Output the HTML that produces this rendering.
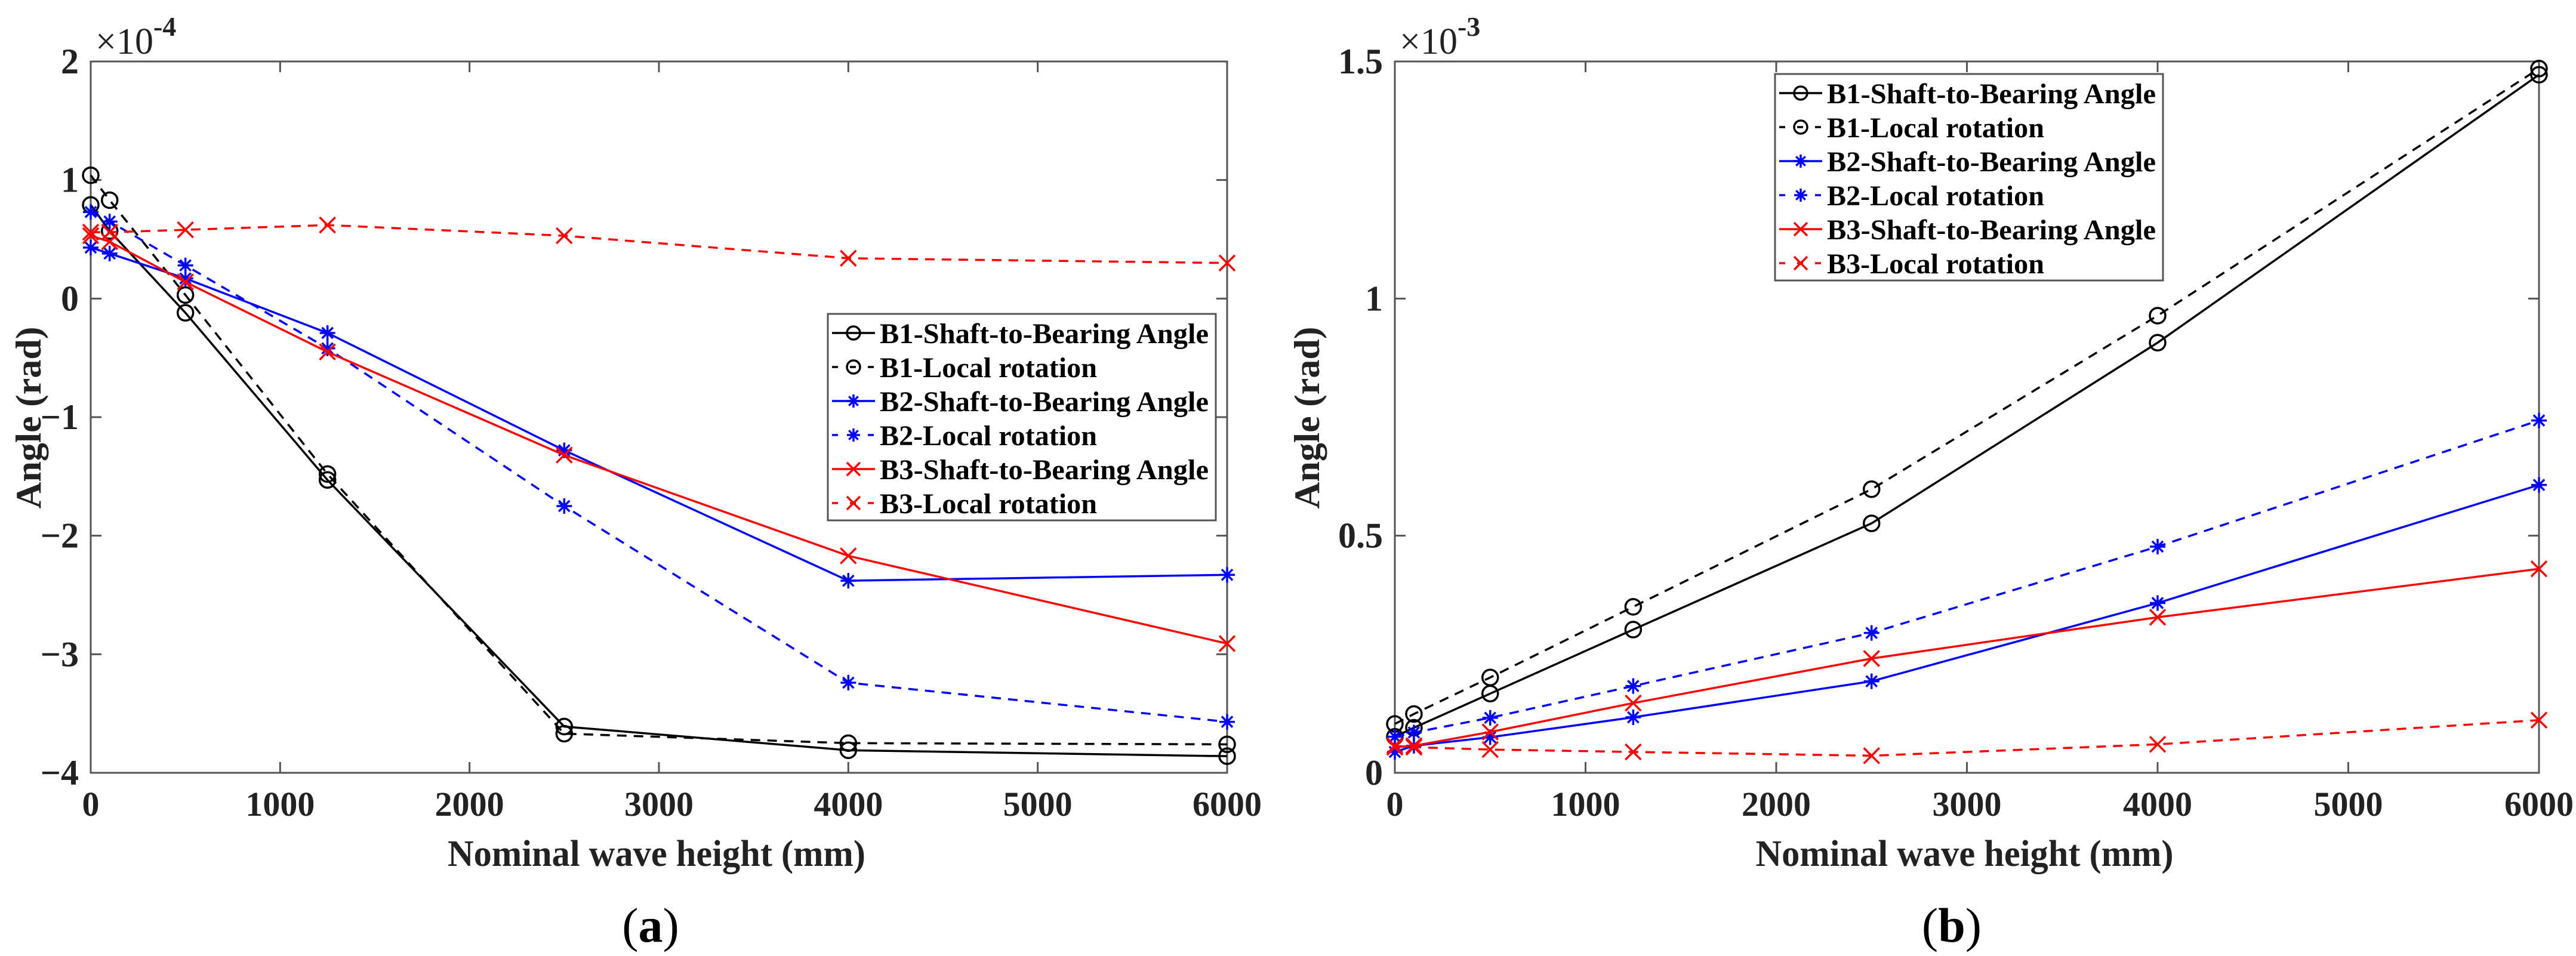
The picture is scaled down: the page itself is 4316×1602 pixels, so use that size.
<!DOCTYPE html>
<html><head><meta charset="utf-8"><style>
html,body{margin:0;padding:0;background:#fff;}
svg{display:block;font-family:"Liberation Serif",serif;font-weight:bold;}
</style></head><body>
<svg id="fig" width="4316" height="1602" viewBox="0 0 4316 1602" xmlns="http://www.w3.org/2000/svg"></svg>
<script>
const xCats = [0, 100, 500, 1250, 2500, 4000, 6000];
const xTicks = [0, 1000, 2000, 3000, 4000, 5000, 6000];
const seriesNames = ["B1-Shaft-to-Bearing Angle","B1-Local rotation","B2-Shaft-to-Bearing Angle","B2-Local rotation","B3-Shaft-to-Bearing Angle","B3-Local rotation"];
// chart (a), units 1e-4 rad
const aB1Shaft = [0.79, 0.57, -0.12, -1.53, -3.61, -3.81, -3.86];
const aB1Local = [1.04, 0.83, 0.03, -1.48, -3.67, -3.75, -3.76];
const aB2Shaft = [0.43, 0.38, 0.17, -0.29, -1.28, -2.38, -2.33];
const aB2Local = [0.73, 0.65, 0.28, -0.42, -1.75, -3.24, -3.57];
const aB3Shaft = [0.53, 0.48, 0.14, -0.45, -1.32, -2.17, -2.91];
const aB3Local = [0.56, 0.56, 0.58, 0.62, 0.53, 0.34, 0.30];
const aYTicks = [-4, -3, -2, -1, 0, 1, 2];
const aYTickLabels = ["\u22124", "\u22123", "\u22122", "\u22121", "0", "1", "2"];
// chart (b), units 1e-3 rad
const bB1Shaft = [0.076, 0.095, 0.167, 0.302, 0.526, 0.907, 1.472];
const bB1Local = [0.103, 0.124, 0.201, 0.350, 0.598, 0.964, 1.485];
const bB2Shaft = [0.044, 0.057, 0.075, 0.117, 0.193, 0.358, 0.607];
const bB2Local = [0.076, 0.085, 0.116, 0.183, 0.295, 0.477, 0.743];
const bB3Shaft = [0.054, 0.057, 0.086, 0.147, 0.241, 0.328, 0.430];
const bB3Local = [0.057, 0.054, 0.049, 0.044, 0.036, 0.060, 0.111];
const bYTicks = [0, 0.5, 1, 1.5];
const bYTickLabels = ["0", "0.5", "1", "1.5"];

const NS = "http://www.w3.org/2000/svg";
const svg = document.getElementById("fig");
function mk(tag, attrs, parent) {
  const e = document.createElementNS(NS, tag);
  for (const k in attrs) e.setAttribute(k, attrs[k]);
  (parent || svg).appendChild(e);
  return e;
}
const styles = [
  {color:"#000", dash:null, marker:"o"},
  {color:"#000", dash:"16,12", marker:"o"},
  {color:"#0000ff", dash:null, marker:"*"},
  {color:"#0000ff", dash:"16,12", marker:"*"},
  {color:"#ff0000", dash:null, marker:"x"},
  {color:"#ff0000", dash:"16,12", marker:"x"}
];
function marker(g, type, cx, cy, color, r) {
  if (type === "o") {
    const c = mk("circle", {cx:cx, cy:cy, r:r, fill:"none", stroke:color, "stroke-width":3.5}, g);
    
    
  } else if (type === "x") {
    const p = mk("path", {d:`M${cx-r},${cy-r}L${cx+r},${cy+r}M${cx-r},${cy+r}L${cx+r},${cy-r}`, stroke:color, "stroke-width":3.5, fill:"none"}, g);
    
    
  } else {
    const d = `M${cx-r},${cy}L${cx+r},${cy}M${cx},${cy-r}L${cx},${cy+r}M${cx-r*0.7},${cy-r*0.7}L${cx+r*0.7},${cy+r*0.7}M${cx-r*0.7},${cy+r*0.7}L${cx+r*0.7},${cy-r*0.7}`;
    const p = mk("path", {d:d, stroke:color, "stroke-width":3.5, fill:"none"}, g);
    
    
  }
}
function chart(cfg) {
  const g = mk("g", {});
  
  
  const L = cfg.L, R = cfg.R, T = 103, B = 1295;
  const xs = v => L + (v - 0) / 6000 * (R - L);
  const ys = v => B - (v - cfg.ymin) / (cfg.ymax - cfg.ymin) * (B - T);
  const fr = mk("rect", {x:L, y:T, width:R-L, height:B-T, fill:"none", stroke:"#555", "stroke-width":3}, g);
  
  
  xTicks.forEach(t => {
    const x = xs(t);
    const tk = mk("path", {d:`M${x},${B}V${B-18}M${x},${T}V${T+18}`, stroke:"#555", "stroke-width":3}, g);
    
    
    const tx = mk("text", {x:x, y:B+72, "text-anchor":"middle", "font-size":58, fill:"#222"}, g);
    tx.textContent = String(t);
    
    
  });
  cfg.yTicks.forEach((t, i) => {
    const y = ys(t);
    const tk = mk("path", {d:`M${L},${y}H${L+18}M${R},${y}H${R-18}`, stroke:"#555", "stroke-width":3}, g);
    
    
    const tx = mk("text", {x:L-20, y:y+20, "text-anchor":"end", "font-size":60, fill:"#222"}, g);
    tx.textContent = cfg.yLabels[i];
    
    
  });
  const ex = mk("text", {x:L+8, y:90, "font-size":62, "font-weight":"normal", fill:"#222"}, g);
  ex.textContent = "\u00d710";
  
  
  const ts = mk("tspan", {dy:-30, "font-size":46, "font-weight":"bold"}, ex);
  ts.textContent = cfg.exp;
  const xl = mk("text", {x:(L+R)/2 - 4, y:1451, "text-anchor":"middle", "font-size":62, fill:"#222", textLength:700, lengthAdjust:"spacingAndGlyphs"}, g);
  xl.textContent = "Nominal wave height (mm)";
  
  
  const yl = mk("text", {x:0, y:0, "text-anchor":"middle", "font-size":60, fill:"#222", transform:`translate(${cfg.ylx},700) rotate(-90)`, textLength:305, lengthAdjust:"spacingAndGlyphs", "xml:space":"preserve"}, g);
  yl.textContent = "Angle   (rad)";
  
  
  const cap = mk("text", {x:cfg.capX, y:1578, "text-anchor":"middle", "font-size":82, "font-weight":"normal", fill:"#000"}, g);
  
  
  const c1 = mk("tspan", {}, cap); c1.textContent = "(";
  const c2 = mk("tspan", {"font-weight":"bold"}, cap); c2.textContent = cfg.cap;
  const c3 = mk("tspan", {}, cap); c3.textContent = ")";
  cfg.series.forEach((vals, si) => {
    const st = styles[si];
    const sg = mk("g", {}, g);
    
    
    const pts = xCats.map((x, i) => xs(x) + "," + ys(vals[i])).join(" ");
    const attrs = {points:pts, fill:"none", stroke:st.color, "stroke-width":3.5};
    if (st.dash) attrs["stroke-dasharray"] = st.dash;
    const pl = mk("polyline", attrs, sg);
    
    
    xCats.forEach((x, i) => marker(sg, st.marker, xs(x), ys(vals[i]), st.color, 13));
  });
  const lg = mk("g", {}, g);
  
  
  const lb = mk("rect", {x:cfg.lx, y:cfg.ly, width:650, height:346, fill:"#fff", stroke:"#555", "stroke-width":3}, lg);
  
  
  seriesNames.forEach((n, i) => {
    const st = styles[i];
    const y = cfg.ly + 32 + i * 57;
    const e = mk("g", {}, lg);
    
    
    const la = {d:`M${cfg.lx+7},${y}H${cfg.lx+79}`, stroke:st.color, "stroke-width":3.5};
    if (st.dash) la["stroke-dasharray"] = "10,20";
    mk("path", la, e);
    marker(e, st.marker, cfg.lx + 43, y, st.color, 11);
    const tx = mk("text", {x:cfg.lx + 87, y:y + 17, "font-size":48, fill:"#000", textLength: n.indexOf("Shaft") >= 0 ? 551 : 364, lengthAdjust:"spacingAndGlyphs"}, e);
    tx.textContent = n;
  });
}
chart({name:"chart-a", L:152, R:2056, ymin:-4, ymax:2, yTicks:aYTicks, yLabels:aYTickLabels, exp:"-4", ylx:68, cap:"a", capX:1090,
  series:[aB1Shaft, aB1Local, aB2Shaft, aB2Local, aB3Shaft, aB3Local], lx:1387, ly:526});
chart({name:"chart-b", L:2337, R:4254, ymin:0, ymax:1.5, yTicks:bYTicks, yLabels:bYTickLabels, exp:"-3", ylx:2210, cap:"b", capX:3270,
  series:[bB1Shaft, bB1Local, bB2Shaft, bB2Local, bB3Shaft, bB3Local], lx:2974, ly:124});
</script>
</body></html>
